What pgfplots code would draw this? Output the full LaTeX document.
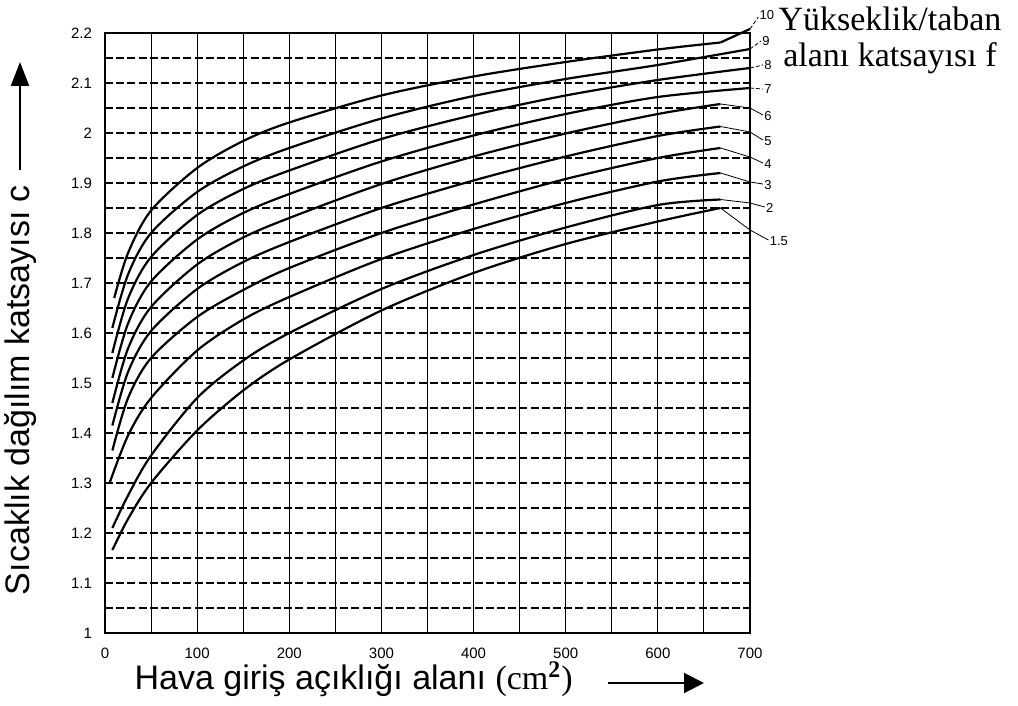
\documentclass[border=0pt]{standalone}
\usepackage{fontspec}
\setmainfont{Liberation Serif}
\newfontfamily\arial{Liberation Sans}
\usepackage{pgfplots}
\pgfplotsset{compat=1.18}
\usetikzlibrary{arrows.meta}
\begin{document}
\begin{tikzpicture}[x=1pt,y=1pt]
\useasboundingbox (0,0) rectangle (509,353);
\begin{axis}[
  at={(52.5pt,36.5pt)}, anchor=south west,
  scale only axis, width=322.5pt, height=300pt,
  xmin=0, xmax=700, ymin=1, ymax=2.2,
  xtick={0,100,200,300,400,500,600,700},
  xticklabels={0,100,200,300,400,500,600,700},
  minor xtick={50,150,250,350,450,550,650},
  ytick={1,1.1,1.2,1.3,1.4,1.5,1.6,1.7,1.8,1.9,2,2.1,2.2},
  yticklabels={1,1.1,1.2,1.3,1.4,1.5,1.6,1.7,1.8,1.9,2,2.1,2.2},
  minor ytick={1.05,1.15,1.25,1.35,1.45,1.55,1.65,1.75,1.85,1.95,2.05,2.15},
  grid=both,
  major grid style={black, line width=0.55pt},
  minor grid style={black, line width=0.55pt},
  x grid style={solid},
  y grid style={dash pattern=on 4pt off 1.6pt},
  axis line style={black, line width=0.8pt},
  major tick length=0pt, minor tick length=0pt,
  tick style={draw=none},
  ticklabel style={font=\arial\fontsize{7.5}{8}\selectfont},
  yticklabel style={xshift=-3pt},
  xticklabel style={yshift=-4pt},
  clip=false,
]
% f = 10
\addplot[black, line width=1.1pt, smooth] coordinates {(10,1.67) (25,1.76) (50,1.845) (100,1.93) (150,1.984) (200,2.021) (300,2.075) (400,2.113) (500,2.142) (600,2.167) (668,2.181)};
\addplot[black, line width=1.1pt] coordinates {(668,2.181) (700,2.208)};
% f = 9
\addplot[black, line width=1.1pt, smooth] coordinates {(8,1.61) (25,1.717) (50,1.80) (100,1.882) (150,1.933) (200,1.970) (300,2.029) (400,2.074) (500,2.108) (600,2.136) (700,2.168)};
% f = 8
\addplot[black, line width=1.1pt, smooth] coordinates {(8,1.56) (25,1.669) (50,1.752) (100,1.836) (150,1.888) (200,1.925) (300,1.988) (400,2.036) (500,2.075) (600,2.106) (700,2.13)};
% f = 7
\addplot[black, line width=1.1pt, smooth] coordinates {(8,1.51) (25,1.619) (50,1.703) (100,1.787) (150,1.840) (200,1.878) (300,1.943) (400,1.995) (500,2.038) (600,2.072) (700,2.09)};
% f = 6
\addplot[black, line width=1.1pt, smooth] coordinates {(8,1.46) (25,1.569) (50,1.652) (100,1.737) (150,1.791) (200,1.83) (300,1.898) (400,1.953) (500,1.999) (600,2.038) (668,2.058)};
% f = 5
\addplot[black, line width=1.1pt, smooth] coordinates {(8,1.415) (25,1.522) (50,1.604) (100,1.688) (150,1.742) (200,1.782) (300,1.85) (400,1.905) (500,1.953) (600,1.994) (668,2.013)};
% f = 4
\addplot[black, line width=1.1pt, smooth] coordinates {(8,1.365) (25,1.47) (50,1.55) (100,1.632) (150,1.686) (200,1.73) (300,1.80) (400,1.857) (500,1.908) (600,1.95) (668,1.97)};
% f = 3
\addplot[black, line width=1.1pt, smooth] coordinates {(5,1.30) (25,1.395) (50,1.47) (100,1.565) (150,1.627) (200,1.672) (300,1.748) (400,1.808) (500,1.86) (600,1.903) (668,1.92)};
% f = 2
\addplot[black, line width=1.1pt, smooth] coordinates {(8,1.21) (25,1.275) (50,1.355) (100,1.47) (150,1.545) (200,1.60) (300,1.688) (400,1.756) (500,1.811) (600,1.856) (668,1.867)};
% f = 1.5
\addplot[black, line width=1.1pt, smooth] coordinates {(8,1.166) (25,1.228) (50,1.30) (100,1.405) (150,1.485) (200,1.547) (300,1.645) (400,1.72) (500,1.778) (600,1.823) (668,1.85)};

% leader lines and curve labels
\draw[black, line width=0.4pt, dash pattern=on 2pt off 1pt] (axis cs:700,2.208) -- (axis cs:709,2.232);
\draw[black, line width=0.4pt, dash pattern=on 2pt off 1pt] (axis cs:700,2.168) -- (axis cs:712,2.184);
\draw[black, line width=0.4pt, dash pattern=on 2pt off 1pt] (axis cs:700,2.13) -- (axis cs:714,2.136);
\draw[black, line width=0.4pt, dash pattern=on 2pt off 1pt] (axis cs:700,2.09) -- (axis cs:714,2.088);
\draw[black, line width=0.4pt] (axis cs:668,2.058) -- (axis cs:700,2.05) -- (axis cs:714,2.036);
\draw[black, line width=0.4pt] (axis cs:668,2.013) -- (axis cs:700,2.002) -- (axis cs:714,1.986);
\draw[black, line width=0.4pt] (axis cs:668,1.97) -- (axis cs:700,1.952) -- (axis cs:714,1.94);
\draw[black, line width=0.4pt] (axis cs:668,1.92) -- (axis cs:700,1.902) -- (axis cs:714,1.898);
\draw[black, line width=0.4pt] (axis cs:668,1.867) -- (axis cs:700,1.86) -- (axis cs:716,1.852);
\draw[black, line width=0.4pt] (axis cs:668,1.85) -- (axis cs:700,1.806) -- (axis cs:720,1.786);
\begin{scope}[every node/.style={font=\arial\fontsize{6.5}{7}\selectfont, anchor=west, inner sep=0.5pt}]
\node at (axis cs:709,2.236) {10};
\node at (axis cs:712,2.184) {9};
\node at (axis cs:714,2.136) {8};
\node at (axis cs:714,2.088) {7};
\node at (axis cs:714,2.034) {6};
\node at (axis cs:714,1.984) {5};
\node at (axis cs:714,1.938) {4};
\node at (axis cs:714,1.896) {3};
\node at (axis cs:716,1.85) {2};
\node at (axis cs:720,1.784) {1.5};
\end{scope}
\end{axis}

% axis titles
\node[rotate=90, font=\arial\fontsize{17}{19}\selectfont, inner sep=0pt] at (10,158) {Sıcaklık dağılım katsayısı c};
\draw[black, line width=1pt, -{Triangle[length=12pt,width=9pt]}] (10,268) -- (10,322);
\node[anchor=base east, inner sep=0pt, font=\fontsize{17}{19}\selectfont] at (286.5,8) {{\arial Hava giriş açıklığı alanı }(cm\textsuperscript{\textbf{2}})};
\draw[black, line width=1pt, -{Triangle[length=10pt,width=10pt]}] (304,11.5) -- (352,11.5);
\node[align=center, font=\fontsize{17}{18}\selectfont, inner sep=0pt] at (445,333) {Yükseklik/taban\\alanı katsayısı f};
\end{tikzpicture}
\end{document}
